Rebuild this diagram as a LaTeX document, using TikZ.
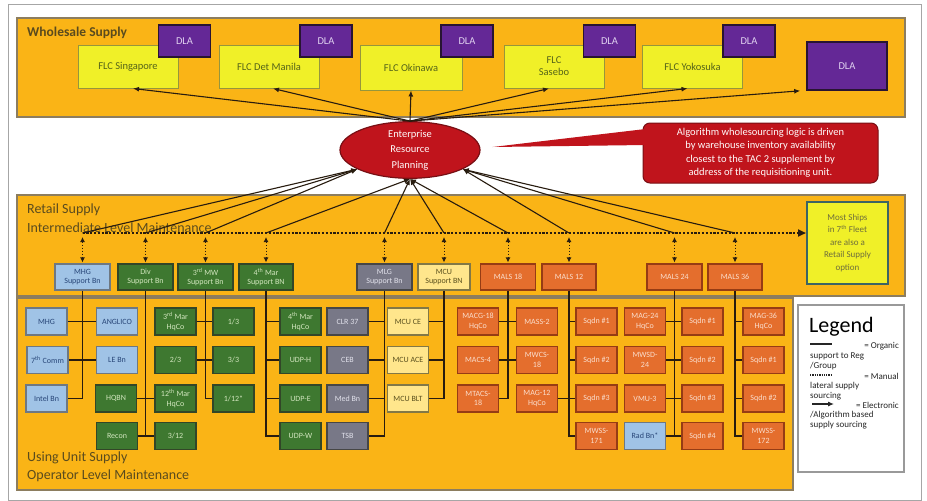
\documentclass[tikz,border=0pt]{standalone}
\usepackage{fontspec}
\setmainfont{Carlito}
\usetikzlibrary{arrows.meta,shapes.geometric,calc}
\definecolor{bandor}{RGB}{250,180,22}
\definecolor{bandln}{RGB}{140,125,95}
\definecolor{titlec}{RGB}{90,75,30}
\definecolor{flcy}{RGB}{240,240,40}
\definecolor{flcln}{RGB}{150,150,60}
\definecolor{flct}{RGB}{85,100,25}
\definecolor{dlap}{RGB}{100,40,150}
\definecolor{dlaln}{RGB}{40,20,50}
\definecolor{dlat}{RGB}{225,210,240}
\definecolor{erpr}{RGB}{192,20,28}
\definecolor{erpln}{RGB}{120,15,20}
\definecolor{lblue}{RGB}{160,195,230}
\definecolor{lblueln}{RGB}{110,120,130}
\definecolor{lbluet}{RGB}{40,70,120}
\definecolor{grn}{RGB}{62,120,48}
\definecolor{grnln}{RGB}{50,70,40}
\definecolor{grnt}{RGB}{210,230,190}
\definecolor{gry}{RGB}{120,120,135}
\definecolor{gryln}{RGB}{70,70,70}
\definecolor{gryt}{RGB}{225,225,235}
\definecolor{lyel}{RGB}{255,230,140}
\definecolor{lyelln}{RGB}{130,120,70}
\definecolor{lyelt}{RGB}{90,80,30}
\definecolor{org}{RGB}{228,110,45}
\definecolor{orgln}{RGB}{150,60,20}
\definecolor{orgt}{RGB}{250,222,205}
\definecolor{shipln}{RGB}{60,100,100}
\definecolor{shipt}{RGB}{110,110,60}
\definecolor{conn}{RGB}{40,28,15}
\begin{document}
\begin{tikzpicture}[x=1pt,y=-1pt,
  band/.style={draw=bandln,fill=bandor,line width=1.2pt},
  ttl/.style={anchor=west,inner sep=0pt,text=titlec,font=\fontsize{14}{16}\selectfont},
  flc/.style={draw=flcln,fill=flcy,line width=1pt,minimum width=100pt,minimum height=43pt,inner sep=1pt,align=center,text=flct,font=\fontsize{10.5}{12}\selectfont},
  dla/.style={draw=dlaln,fill=dlap,line width=1.6pt,minimum width=52pt,minimum height=32pt,inner sep=0pt,text=dlat,font=\fontsize{10.5}{12}\selectfont},
  rbox/.style={line width=1.2pt,minimum width=55pt,minimum height=26pt,inner sep=0pt,align=center,font=\fontsize{8}{9.5}\selectfont},
  ubox/.style={line width=1.2pt,minimum width=41pt,minimum height=27pt,inner sep=0pt,align=center,font=\fontsize{8}{9.5}\selectfont},
  blueb/.style={draw=lblueln,fill=lblue,text=lbluet},
  greenb/.style={draw=grnln,fill=grn,text=grnt},
  grayb/.style={draw=gryln,fill=gry,text=gryt},
  lyelb/.style={draw=lyelln,fill=lyel,text=lyelt},
  orgb/.style={draw=orgln,fill=org,text=orgt},
  orgline/.style={draw=conn,line width=1.8pt},
  dotl/.style={draw=conn,line width=2.2pt,dash pattern=on 2.2pt off 1.6pt},
  dbl/.style={draw=conn,line width=1pt,dash pattern=on 1.5pt off 1.5pt,{Latex[length=5pt,width=5pt]}-{Latex[length=5pt,width=5pt]},shorten <=4pt,shorten >=1pt},
  elec/.style={draw=conn,line width=1.1pt,-{Latex[length=6pt,width=5pt]}},
  lt/.style={anchor=west,inner sep=0pt,font=\fontsize{9}{10}\selectfont,text=black!85}
]
\useasboundingbox (0,0) rectangle (927,501);
\fill[white] (0,0) rectangle (927,501);
\draw[gray!70,line width=1pt] (8,4) rectangle (921,500);

% bands
\draw[band] (17,18) rectangle (905,117);
\draw[band] (17,195) rectangle (905,296);
\draw[band] (17,298) rectangle (793,490);

\node[ttl,font=\bfseries\fontsize{13.5}{16}\selectfont] (tw) at (27,33) {Wholesale Supply};
\node[ttl] (tr1) at (27,210) {Retail Supply};
\node[ttl] (tr2) at (27,228) {Intermediate Level Maintenance};
\node[ttl] (tu1) at (27,458) {Using Unit Supply};
\node[ttl] (tu2) at (27,476) {Operator Level Maintenance};

% wholesale
\node[flc] (fsin) at (128,66.5) {FLC Singapore};
\node[dla] (dla1) at (184.5,41) {DLA};
\node[flc] (fdm) at (269,66.5) {FLC Det Manila};
\node[dla] (dla2) at (326,41) {DLA};
\node[flc,minimum width=102pt,minimum height=45pt] (fok) at (411,67.5) {FLC Okinawa};
\node[dla] (dla3) at (467,41) {DLA};
\node[flc] (fsa) at (554,66.5) {FLC\\Sasebo};
\node[dla] (dla4) at (609.5,41) {DLA};
\node[flc] (fyo) at (692.5,66.5) {FLC Yokosuka};
\node[dla] (dla5) at (749,41) {DLA};
\node[dla,minimum width=80pt,minimum height=48pt] (dla6) at (847,66) {DLA};

% ERP and callout
\node[ellipse,draw=erpln,fill=erpr,line width=1.2pt,minimum width=140pt,minimum height=56pt,inner sep=0pt,align=center,text=white!92!pink,font=\fontsize{10.5}{15.5}\selectfont] (erp) at (410,150) {Enterprise\\Resource\\Planning};
\node[rounded corners=7pt,draw=erpln,fill=erpr,line width=1pt,minimum width=235pt,minimum height=60pt,align=center,inner sep=0pt,text=white!92!pink,font=\fontsize{10.5}{13.5}\selectfont] (call) at (760.5,153) {Algorithm wholesourcing logic is driven\\by warehouse inventory availability\\closest to the TAC 2 supplement by\\address of the requisitioning unit.};
\fill[erpr] ($(erp.east)+(12,-3)$) -- ($(call.west)+(3,-24)$) -- ($(call.west)+(3,-8)$) -- cycle;

% retail boxes
\node[rbox,blueb] (mhgs) at (82.5,277) {MHG\\Support Bn};
\node[rbox,greenb] (divs) at (145.5,277) {Div\\Support Bn};
\node[rbox,greenb] (mws) at (205.5,277) {3\textsuperscript{rd} MW\\Support Bn};
\node[rbox,greenb,minimum width=54pt] (mars) at (266,277) {4\textsuperscript{th} Mar\\Support BN};
\node[rbox,grayb] (mlgs) at (384.5,277) {MLG\\Support Bn};
\node[rbox,lyelb,minimum width=52pt] (mcus) at (444,277) {MCU\\Support BN};
\node[rbox,orgb] (m18) at (508,277) {MALS 18};
\node[rbox,orgb,minimum width=54pt] (m12) at (569,277) {MALS 12};
\node[rbox,orgb] (m24) at (674.5,277) {MALS 24};
\node[rbox,orgb,minimum width=54pt] (m36) at (735,277) {MALS 36};

\node[draw=shipln,line width=2pt,fill=flcy,minimum width=81pt,minimum height=82pt,inner sep=0pt,align=center,text=shipt,font=\fontsize{9}{12.5}\selectfont] (ships) at (847.5,243) {Most Ships\\in 7\textsuperscript{th} Fleet\\are also a\\Retail Supply\\option};

% unit boxes
\def\ra{321.5}\def\rb{360}\def\rc{398.5}\def\rd{436}
\node[ubox,blueb] (mhg) at (46.5,\ra) {MHG};
\node[ubox,blueb] (comm) at (47.5,\rb) {7\textsuperscript{th} Comm};
\node[ubox,blueb] (intel) at (46.5,\rc) {Intel Bn};
\node[ubox,blueb] (ang) at (117,\ra) {ANGLICO};
\node[ubox,blueb] (le) at (117,\rb) {LE Bn};
\node[ubox,greenb] (hqbn) at (116,\rc) {HQBN};
\node[ubox,greenb] (recon) at (117,\rd) {Recon};
\node[ubox,greenb] (h3) at (175.5,\ra) {3\textsuperscript{rd} Mar\\HqCo};
\node[ubox,greenb] (b23) at (175.5,\rb) {2/3};
\node[ubox,greenb] (h12) at (175.5,\rc) {12\textsuperscript{th} Mar\\HqCo};
\node[ubox,greenb] (b312) at (175.5,\rd) {3/12};
\node[ubox,greenb] (b13) at (233.5,\ra) {1/3};
\node[ubox,greenb] (b33) at (233.5,\rb) {3/3};
\node[ubox,greenb] (b112) at (233.5,\rc) {1/12*};
\node[ubox,greenb] (h4) at (300.5,\ra) {4\textsuperscript{th} Mar\\HqCo};
\node[ubox,greenb] (udph) at (300.5,\rb) {UDP-H};
\node[ubox,greenb] (udpe) at (300.5,\rc) {UDP-E};
\node[ubox,greenb] (udpw) at (300.5,\rd) {UDP-W};
\node[ubox,grayb] (clr) at (347.5,\ra) {CLR 37};
\node[ubox,grayb] (ceb) at (347.5,\rb) {CEB};
\node[ubox,grayb] (med) at (347.5,\rc) {Med Bn};
\node[ubox,grayb] (tsb) at (347.5,\rd) {TSB};
\node[ubox,lyelb] (mce) at (408,\ra) {MCU CE};
\node[ubox,lyelb] (mace) at (408,\rb) {MCU ACE};
\node[ubox,lyelb] (mblt) at (408,\rc) {MCU BLT};
\node[ubox,orgb] (macg) at (478,\ra) {MACG-18\\HqCo};
\node[ubox,orgb] (macs) at (478,\rb) {MACS-4};
\node[ubox,orgb] (mtacs) at (478,\rc) {MTACS-\\18};
\node[ubox,orgb] (mass) at (537,\ra) {MASS-2};
\node[ubox,orgb] (mwcs) at (537,\rb) {MWCS-\\18};
\node[ubox,orgb] (mag12) at (537,\rc) {MAG-12\\HqCo};
\node[ubox,orgb] (ja) at (596.5,\ra) {Sqdn \#1};
\node[ubox,orgb] (jb) at (596.5,\rb) {Sqdn \#2};
\node[ubox,orgb] (jc) at (596.5,\rc) {Sqdn \#3};
\node[ubox,orgb] (mwss171) at (596.5,\rd) {MWSS-\\171};
\node[ubox,orgb] (mag24) at (645,\ra) {MAG-24\\HqCo};
\node[ubox,orgb] (mwsd) at (645,\rb) {MWSD-\\24};
\node[ubox,orgb] (vmu) at (645,\rc) {VMU-3};
\node[ubox,blueb] (rad) at (645,\rd) {Rad Bn*};
\node[ubox,orgb] (la) at (702.5,\ra) {Sqdn \#1};
\node[ubox,orgb] (lb) at (702.5,\rb) {Sqdn \#2};
\node[ubox,orgb] (lc) at (702.5,\rc) {Sqdn \#3};
\node[ubox,orgb] (ld) at (702.5,\rd) {Sqdn \#4};
\node[ubox,orgb] (mag36) at (763.5,\ra) {MAG-36\\HqCo};
\node[ubox,orgb] (ma) at (763.5,\rb) {Sqdn \#1};
\node[ubox,orgb] (mb) at (763.5,\rc) {Sqdn \#2};
\node[ubox,orgb] (mwss172) at (763.5,\rd) {MWSS-\\172};

% organic connectors
\draw[orgline] (mhgs.south) -- (mhgs.south |- intel.east) -- (intel.east);
\draw[orgline] (mhg.east) -- (ang.west);
\draw[orgline] (comm.east) -- (le.west);
\draw[orgline] (divs.south) -- (divs.south |- recon.east);
\draw[orgline] (hqbn.east) -- (h12.west);
\draw[orgline] (recon.east) -- (b312.west);
\draw[orgline] (mws.south) -- (mws.south |- b112.west) -- (b112.west);
\draw[orgline] (h3.east) -- (b13.west);
\draw[orgline] (b23.east) -- (b33.west);
\draw[orgline] (mars.south) -- (mars.south |- udpw.west) -- (udpw.west);
\foreach \n in {h4,udph,udpe} \draw[orgline] (mars.south |- \n.west) -- (\n.west);
\draw[orgline] (mlgs.south) -- (mlgs.south |- tsb.east) -- (tsb.east);
\foreach \n in {clr,ceb,med} \draw[orgline] (mlgs.south |- \n.east) -- (\n.east);
\draw[orgline] (mcus.south) -- (mcus.south |- mblt.east) -- (mblt.east);
\foreach \n in {mce,mace} \draw[orgline] (mcus.south |- \n.east) -- (\n.east);
\draw[orgline] (m18.south) -- (m18.south |- mtacs.east) -- (mtacs.east);
\draw[orgline] (macg.east) -- (mass.west);
\draw[orgline] (macs.east) -- (mwcs.west);
\draw[orgline] (m12.south) -- (m12.south |- mwss171.west) -- (mwss171.west);
\draw[orgline] (mag12.east) -- (jc.west);
\foreach \n in {ja,jb} \draw[orgline] (m12.south |- \n.west) -- (\n.west);
\draw[orgline] (m24.south) -- (m24.south |- ld.west);
\draw[orgline] (mag24.east) -- (la.west);
\draw[orgline] (mwsd.east) -- (lb.west);
\draw[orgline] (vmu.east) -- (lc.west);
\draw[orgline] (rad.east) -- (ld.west);
\draw[orgline] (m36.south) -- (m36.south |- mwss172.west) -- (mwss172.west);
\foreach \n in {mag36,ma,mb} \draw[orgline] (m36.south |- \n.west) -- (\n.west);

% manual lateral sourcing
\coordinate (dl) at (82.5,233);
\draw[dotl,-{Triangle[length=8pt,width=7pt]}] (dl) -- (ships.west |- dl);
\foreach \n in {mhgs,divs,mws,mars,mlgs,mcus,m18,m12,m24,m36}
  \draw[dbl] (\n.north |- dl) -- (\n.north);

% electronic sourcing
\foreach \n in {mhgs,divs,mws} \draw[elec] (\n.north |- dl) -- (erp.200);
\foreach \n in {mars,mlgs,mcus,m18} \draw[elec] (\n.north |- dl) -- (erp.south);
\foreach \n in {m12,m24,m36} \draw[elec] (\n.north |- dl) -- (erp.340);
\draw[elec] (erp.north) -- ($(fsin.south)+(5,0)$);
\draw[elec] (erp.north) -- ($(fdm.south)+(4,0)$);
\draw[elec] (erp.north) -- (fok.south);
\draw[elec] (erp.north) -- ($(fsa.south)+(-5,0)$);
\draw[elec] (erp.north) -- ($(fyo.south)+(-5,0)$);
\draw[elec] (erp.north) -- ($(dla6.south west)+(-6,0)$);

% legend
\node[draw=gray!80,line width=1.2pt,fill=white,minimum width=106pt,minimum height=167pt,inner sep=0pt] (leg) at (851,388.5) {};
\node[anchor=west,inner sep=0pt,font=\fontsize{22}{24}\selectfont] (legt) at (809,327) {Legend};
\coordinate (s1a) at (810,344); \coordinate (s1b) at (832,344);
\draw[line width=1.3pt,black!85] (s1a) -- (s1b);
\node[lt,anchor=east] (l1) at (899,346) {= Organic};
\node[lt] (l2) at (810,356) {support to Reg};
\node[lt] (l3) at (810,366) {/Group};
\coordinate (s2a) at (810,375); \coordinate (s2b) at (832,375);
\draw[line width=1.6pt,black!85,dash pattern=on 1.3pt off 1pt] (s2a) -- (s2b);
\node[lt,anchor=east] (l4) at (899,376) {= Manual};
\node[lt] (l5) at (810,386) {lateral supply};
\node[lt] (l6) at (810,396) {sourcing};
\coordinate (s3a) at (812,404); \coordinate (s3b) at (834,404);
\draw[line width=1.1pt,black!85,-{Latex[length=6pt,width=5pt]}] (s3a) -- (s3b);
\node[lt,anchor=east] (l7) at (899,405) {= Electronic};
\node[lt] (l8) at (810,415) {/Algorithm based};
\node[lt] (l9) at (810,425) {supply sourcing};
\end{tikzpicture}
\end{document}
